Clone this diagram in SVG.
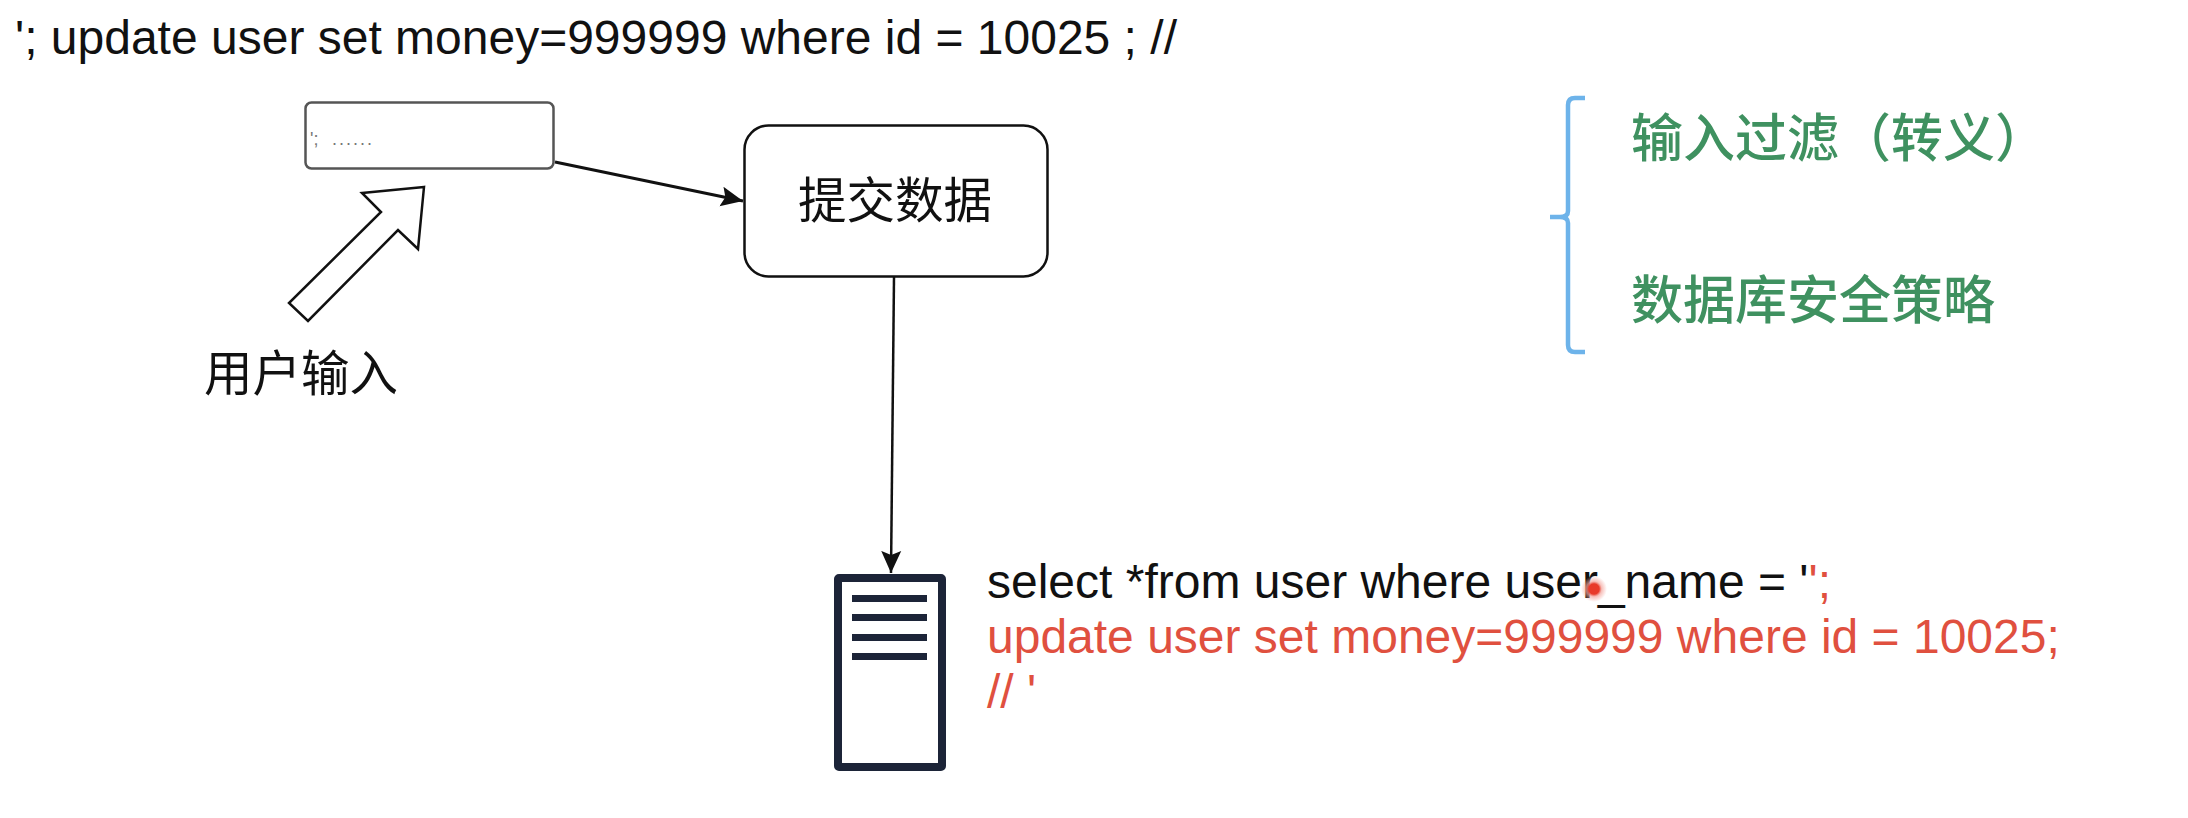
<svg xmlns="http://www.w3.org/2000/svg" width="2188" height="818" viewBox="0 0 2188 818">
<style>
text{font-family:"Liberation Sans","Noto Sans CJK SC",sans-serif;fill:#111}
.cjk{font-family:"Noto Sans CJK SC",sans-serif;font-size:48.500px;font-weight:400}
.sql{font-size:48px}
.red{fill:#e0503f}
.green{font-family:"Noto Sans CJK SC",sans-serif;font-size:52px;font-weight:500;fill:#3f9160}
.line{fill:none;stroke:#111;stroke-width:2.500}
.bar{fill:#1c2438}
</style>
<defs>
<marker id="arrow" markerUnits="userSpaceOnUse" markerWidth="24" markerHeight="22" refX="22" refY="11" orient="auto"><path d="M0 1 L22 11 L0 21 L4 11 Z" fill="#111"/></marker>
<radialGradient id="dot"><stop offset="0" stop-color="#e83a2a"/><stop offset=".4" stop-color="#e83a2a"/><stop offset=".6" stop-color="#f4a79f" stop-opacity=".7"/><stop offset="1" stop-color="#f4a79f" stop-opacity="0"/></radialGradient>
</defs>
<rect width="2188" height="818" fill="#fff"/>
<text id="payload" x="15" y="54" class="sql">'; update user set money=999999 where id = 10025 ; //</text>
<g id="connectors">
<line class="line" x1="555" y1="162" x2="743" y2="201" marker-end="url(#arrow)" style="stroke-width:3"/>
<line class="line" x1="894" y1="277" x2="891" y2="573" marker-end="url(#arrow)"/>
</g>
<g id="input-box">
<rect x="305.500" y="102.500" width="248" height="66" rx="6" fill="#fff" stroke="#555" stroke-width="2.500"/>
<text x="310" y="145" font-size="18" style="fill:#777">';<tspan x="332" letter-spacing="2">......</tspan></text>
</g>
<g id="user-arrow">
<path d="M424 187 L362 193 L381 212 L289 303 L308 321 L398 230 L418 249 Z" fill="#fff" stroke="#111" stroke-width="2.500" stroke-linejoin="miter"/>
</g>
<g id="user-label"><text x="204" y="391" class="cjk">用户输入</text></g>
<g id="submit">
<rect x="744.500" y="125.500" width="303" height="151" rx="24" fill="#fff" stroke="#111" stroke-width="2.500"/>
<text x="798" y="218" class="cjk">提交数据</text>
</g>
<g id="database">
<rect x="838" y="578" width="104" height="189" fill="#fff" stroke="#1c2438" stroke-width="8" rx="1"/>
<rect class="bar" x="852" y="595" width="75" height="7"/>
<rect class="bar" x="852" y="614" width="75" height="7"/>
<rect class="bar" x="852" y="634" width="75" height="7"/>
<rect class="bar" x="852" y="653" width="75" height="7"/>
</g>
<g id="sql">
<text x="987" y="598" class="sql">select *from user where user_name = '<tspan class="red">';</tspan></text>
<text x="987" y="653" class="sql red">update user set money=999999 where id = 10025;</text>
<text x="987" y="708" class="sql red">// '</text>
<circle cx="1594" cy="589" r="13" fill="url(#dot)"/>
</g>
<g id="defenses">
<path d="M1585 98 H1575 Q1568 98 1568 105 V211 Q1568 217 1560 217 H1550 H1560 Q1568 217 1568 223 V345 Q1568 352 1575 352 H1585" fill="none" stroke="#6db3ea" stroke-width="4.500"/>
<text x="1631" y="157" class="green">输入过滤（转义）</text>
<text x="1631" y="319" class="green">数据库安全策略</text>
</g>
</svg>
